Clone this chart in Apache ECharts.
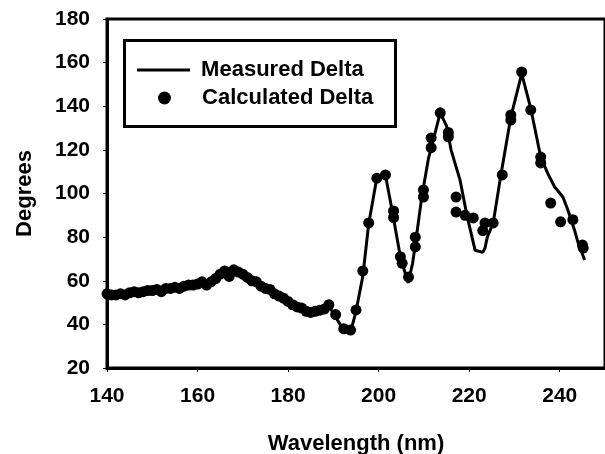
<!DOCTYPE html>
<html>
<head>
<meta charset="utf-8">
<script src="https://cdn.jsdelivr.net/npm/echarts@6/dist/echarts.min.js"></script>
<style>
html,body{margin:0;padding:0;background:#fff;}
#main{width:605px;height:454px;}
</style>
</head>
<body>
<div id="main"></div>
<script>
// measured curve
var measuredWl = [140,142,144,146,148,150,152,154,156,158,160,162,164,166,168,170,172,174,176,178,180,182,184,186,188,189,190,191.5,192.5,194,195,196.5,197.8,199.5,200.5,201.5,203,204.8,206.5,207.5,208.2,209.5,211,212,213.6,215,216,218,219.5,221.3,223,223.5,224,225.3,227,229.2,231.6,233.6,235.8,237.4,238.9,240.7,241.8,243.3,244,245.5];
var measuredDeg = [54,54,54.5,55,55.5,56,56.5,57,57.5,58,59,60,62,64,65,62.5,60.5,58,56,53,50,48,46.5,46,47.5,48.5,45,40,37.5,38,46,62,86,106,108,108.5,92,71,59,68,78,98,116,124,137,131,120,106,90,74,73,75,80,86.5,108.5,135,155,139,116.7,109,103,98.4,92.4,83,77.8,69.5];

// calculated points
var calcWl = [140,141,142,143,144,145,146,147,148,149,150,151,152,153,154,155,156,157,158,159,160,161,162,163,164,165,166,167,168,169,170,171,172,173,174,175,176,177,178,179,180,181,182,183,184,185,186,187,188,189,190.5,192.3,193.8,195,196.5,197.8,199.6,201.5,203.3,203.3,204.8,205.2,206.6,208.1,208.1,209.9,209.9,211.6,211.6,213.6,215.4,215.4,217.1,217.1,219.1,220.9,223,223.5,225.3,227.3,229.2,229.2,231.6,233.6,235.8,235.8,238,240.2,242.9,245,245.2];
var calcDeg = [54,53.5,53.5,54,53.5,54.5,55,54.5,55,55.5,55.5,56,55,56.5,56.5,57,56.5,57.5,58,58,58.5,59.5,58,59.5,61,63,64.5,62,65,64,63,61.5,60,59.5,57.5,56.5,56,54,53,52,50.5,49,48,47.5,46,45.5,46,46.5,47,49,44.5,38,37.4,46.6,64.5,86.5,107,108.5,92,89,71,68,61.7,75.5,80,98.4,101.6,121,125.5,137,128,126,98.4,91.5,90,88.8,83,86.5,86.5,108.5,133.7,136,155.7,138.3,116.7,114,95.6,87,88,76.4,75];

var yTicks = [20,40,60,80,100,120,140,160,180];

function pairs(xs, ys){
  var out = [];
  for (var i = 0; i < xs.length; i++) out.push([xs[i], ys[i]]);
  return out;
}

var chart = echarts.init(document.getElementById('main'));
var font = 'Liberation Sans, Arial, sans-serif';
var legendText = {fontFamily: font, fontWeight: 'bold', fontSize: 22, color: '#000'};
var option = {
  animation: false,
  grid: {
    left: 107, top: 19, width: 498, height: 349,
    containLabel: false, outerBoundsMode: 'none',
    show: true, borderColor: '#000', borderWidth: 3
  },
  legend: [
    {
      left: 137, top: 59, padding: 0,
      itemWidth: 53, itemHeight: 3,
      icon: 'rect',
      formatter: ' {name}',
      textStyle: legendText,
      data: ['Measured Delta']
    },
    {
      left: 158, top: 87, padding: 0,
      itemWidth: 53, itemHeight: 13,
      icon: 'circle',
      formatter: ' {name}',
      textStyle: legendText,
      data: ['Calculated Delta']
    }
  ],
  graphic: [{
    type: 'rect',
    left: 122, top: 38,
    shape: {width: 271, height: 86},
    style: {fill: 'none', stroke: '#000', lineWidth: 3},
    z: 10
  }],
  xAxis: {
    type: 'value', min: 140, max: 250, interval: 20,
    name: 'Wavelength (nm)', nameLocation: 'middle', nameGap: 65,
    nameTextStyle: {fontFamily: font, fontWeight: 'bold', fontSize: 22, color: '#000'},
    axisLine: {lineStyle: {color: '#000', width: 3}},
    axisTick: {show: true, length: 4, lineStyle: {color: '#000', width: 1}},
    axisLabel: {
      fontFamily: font, fontWeight: 'bold', fontSize: 21, color: '#000', margin: 18,
      showMaxLabel: false
    },
    splitLine: {show: false}
  },
  yAxis: {
    type: 'value', min: yTicks[0], max: yTicks[yTicks.length - 1], interval: 20,
    name: 'Degrees', nameLocation: 'middle', nameGap: 71, nameRotate: 90,
    nameTextStyle: {fontFamily: font, fontWeight: 'bold', fontSize: 22, color: '#000'},
    axisLine: {lineStyle: {color: '#000', width: 3}},
    axisTick: {show: true, length: 4, lineStyle: {color: '#000', width: 1}},
    axisLabel: {fontFamily: font, fontWeight: 'bold', fontSize: 21, color: '#000', margin: 17},
    splitLine: {show: false}
  },
  series: [
    {
      name: 'Measured Delta',
      type: 'line',
      symbol: 'none',
      lineStyle: {color: '#000', width: 3},
      itemStyle: {color: '#000'},
      data: pairs(measuredWl, measuredDeg),
      z: 2
    },
    {
      name: 'Calculated Delta',
      type: 'scatter',
      symbol: 'circle',
      symbolSize: 11,
      itemStyle: {color: '#000', opacity: 1},
      data: pairs(calcWl, calcDeg),
      z: 3
    }
  ]
};
chart.setOption(option);
</script>
</body>
</html>
